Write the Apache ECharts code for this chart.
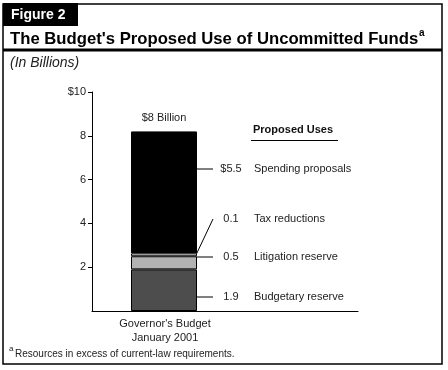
<!DOCTYPE html>
<html><head><meta charset="utf-8">
<script src="https://cdn.jsdelivr.net/npm/echarts@6/dist/echarts.min.js"></script>
<style>html,body{margin:0;padding:0;background:#fff}#c{width:448px;height:370px}</style>
</head><body><div id="c"></div>
<script>
// ---- data ----
const categories = ["Governor's Budget\nJanuary 2001", ""];
const useNames = ["Budgetary reserve", "Litigation reserve", "Tax reductions", "Spending proposals"];
const useValues = [1.9, 0.6, 0.13, 5.57];
const useLabels = ["1.9", "0.5", "0.1", "$5.5"];
const totalLabel = ["$8 Billion"];
const yTickValues = [2, 4, 6, 8, 10];
const yTickLabels = ["2", "4", "6", "8", "$10"];

// ---- layout / style ----
const FONT = "'Liberation Sans', Arial, Helvetica, sans-serif";
const segColors = ["#4d4d4d", "#b3b3b3", "#ffffff", "#000000"];
const labelYs = [297, 257, 219, 169];

const chart = echarts.init(document.getElementById('c'), null, {renderer: 'canvas'});

const series = [{
  name: 'spacer', type: 'bar', stack: 'sp', barWidth: 11, barGap: '0%',
  data: categories.map(() => 0), silent: true,
  itemStyle: {color: 'rgba(0,0,0,0)', borderWidth: 0}
}];
useNames.forEach((n, i) => {
  series.push({
    name: n, type: 'bar', stack: 'b', barWidth: 66, barGap: '0%', silent: true,
    data: [useValues[i], '-'],
    itemStyle: {color: segColors[i], borderColor: '#000', borderWidth: 1},
    label: {
      show: true, position: 'right', fontFamily: FONT, fontSize: 11, color: '#222',
      formatter: () => '{g| }{v|' + useLabels[i] + '}{n|' + n + '}',
      rich: {
        g: {width: 6, fontFamily: FONT, fontSize: 11},
        v: {width: 24, align: 'right', fontFamily: FONT, fontSize: 11, color: '#222'},
        n: {padding: [0, 0, 0, 11], fontFamily: FONT, fontSize: 11, color: '#222'}
      }
    },
    labelLine: {show: true, lineStyle: {color: '#000', width: 1}},
    labelLayout: (p) => ({
      x: p.rect.x + p.rect.width + 16, y: labelYs[i], align: 'left', verticalAlign: 'middle'
    })
  });
});
series.push({
  name: 'total', type: 'bar', stack: 'b', barWidth: 66, barGap: '0%', silent: true,
  data: [0, '-'],
  itemStyle: {color: 'rgba(0,0,0,0)', borderWidth: 0},
  label: {show: true, position: 'top', distance: 8, fontFamily: FONT, fontSize: 11, color: '#222',
    formatter: () => totalLabel[0]}
});

chart.setOption({
  animation: false,
  textStyle: {fontFamily: FONT},
  grid: {left: 92, right: 90, top: 92, bottom: 59},
  xAxis: {
    type: 'category', data: categories,
    axisLine: {lineStyle: {color: '#000', width: 1}},
    axisTick: {show: false},
    axisLabel: {fontFamily: FONT, fontSize: 11, color: '#222', lineHeight: 14, margin: 6, padding: [0, 0, 0, 13]}
  },
  yAxis: {
    type: 'value', min: 0, max: 10, interval: 2,
    splitLine: {show: false},
    axisLine: {show: true, lineStyle: {color: '#000', width: 1}},
    axisTick: {show: true, length: 4, lineStyle: {color: '#000'}, customValues: yTickValues},
    axisLabel: {fontFamily: FONT, fontSize: 11, color: '#222', margin: 6, customValues: yTickValues,
      formatter: (v) => { const k = yTickValues.indexOf(v); return k < 0 ? '' : yTickLabels[k]; }}
  },
  series: series,
  graphic: [
    {type: 'rect', shape: {x: 3, y: 4, width: 439, height: 360}, style: {fill: 'none', stroke: '#000', lineWidth: 1.5}, silent: true},
    {type: 'rect', shape: {x: 3, y: 3, width: 75, height: 23}, style: {fill: '#000'}, silent: true},
    {type: 'text', x: 11, y: 15, style: {text: 'Figure 2', fill: '#fff', font: 'bold 14px ' + FONT, verticalAlign: 'middle'}, silent: true},
    {type: 'text', x: 10, y: 39, style: {text: "The Budget's Proposed Use of Uncommitted Funds", fill: '#000', font: 'bold 16.7px ' + FONT, verticalAlign: 'middle'}, silent: true},
    {type: 'text', x: 419, y: 33, style: {text: 'a', fill: '#000', font: 'bold 10px ' + FONT, verticalAlign: 'middle'}, silent: true},
    {type: 'rect', shape: {x: 3, y: 48.5, width: 439, height: 3}, style: {fill: '#000'}, silent: true},
    {type: 'text', x: 10, y: 63, style: {text: '(In Billions)', fill: '#222', font: 'italic 14px ' + FONT, verticalAlign: 'middle'}, silent: true},
    {type: 'text', x: 253, y: 130, style: {text: 'Proposed Uses', fill: '#111', font: 'bold 11px ' + FONT, verticalAlign: 'middle'}, silent: true},
    {type: 'line', shape: {x1: 251, y1: 140.5, x2: 338, y2: 140.5}, style: {stroke: '#000', lineWidth: 1}, silent: true},
    {type: 'text', x: 9, y: 349, style: {text: 'a', fill: '#222', font: '8px ' + FONT, verticalAlign: 'middle'}, silent: true},
    {type: 'text', x: 15, y: 354, style: {text: 'Resources in excess of current-law requirements.', fill: '#222', font: '10px ' + FONT, verticalAlign: 'middle'}, silent: true}
  ]
});
</script>
</body></html>
